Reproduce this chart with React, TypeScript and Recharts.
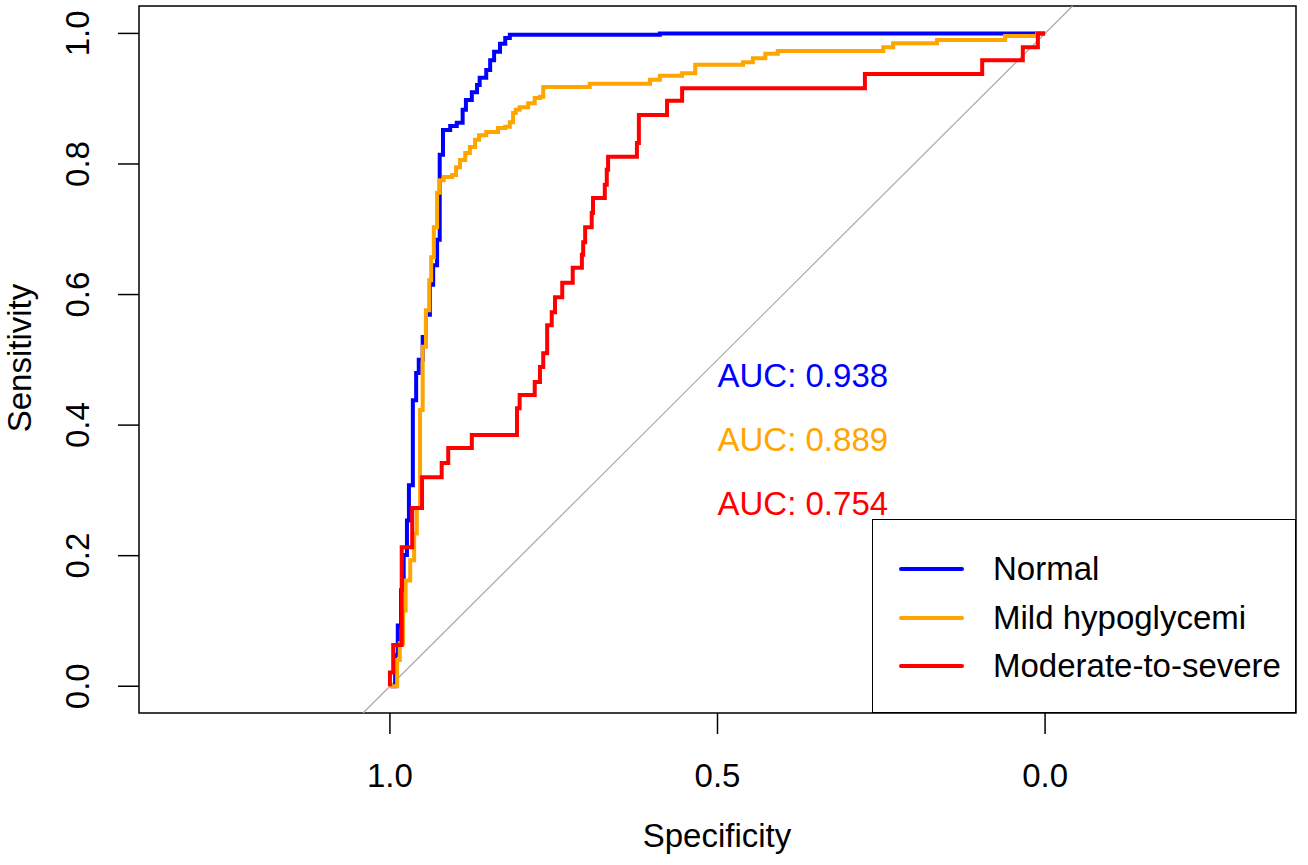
import React from "react";
import {
  LineChart,
  Line,
  XAxis,
  YAxis,
  Legend,
  ReferenceArea,
  ReferenceLine,
  ReferenceDot,
} from "recharts";

// ROC points: each point is the foot of a vertical step
const NORMAL_SPEC = [
  1.0, 0.992, 0.988, 0.983, 0.979, 0.974, 0.971, 0.965, 0.96, 0.956, 0.95,
  0.945, 0.939, 0.934, 0.928, 0.924, 0.919, 0.908, 0.898, 0.889, 0.884, 0.875,
  0.867, 0.863, 0.853, 0.847, 0.841, 0.832, 0.824, 0.817, 0.806, 0.588, 0.0,
];
const NORMAL_SENS = [
  0.0, 0.0, 0.048, 0.093, 0.147, 0.201, 0.254, 0.308, 0.438, 0.48, 0.5, 0.535,
  0.569, 0.615, 0.645, 0.684, 0.814, 0.852, 0.858, 0.863, 0.883, 0.898, 0.91,
  0.921, 0.932, 0.944, 0.959, 0.972, 0.984, 0.993, 0.998, 0.998, 1.0,
];

const MILD_SPEC = [
  1.0, 0.989, 0.985, 0.98, 0.976, 0.969, 0.963, 0.959, 0.954, 0.95, 0.945,
  0.94, 0.937, 0.933, 0.928, 0.924, 0.918, 0.905, 0.899, 0.893, 0.885, 0.878,
  0.87, 0.864, 0.853, 0.835, 0.824, 0.817, 0.812, 0.808, 0.802, 0.789, 0.779,
  0.771, 0.766, 0.695, 0.603, 0.588, 0.554, 0.534, 0.461, 0.446, 0.427, 0.408,
  0.247, 0.232, 0.165, 0.061, 0.012, 0.0,
];
const MILD_SENS = [
  0.0, 0.0, 0.04, 0.066, 0.116, 0.162, 0.193, 0.234, 0.273, 0.423, 0.52, 0.576,
  0.622, 0.657, 0.703, 0.756, 0.775, 0.78, 0.783, 0.795, 0.806, 0.817, 0.826,
  0.837, 0.844, 0.849, 0.855, 0.857, 0.864, 0.878, 0.883, 0.887, 0.893, 0.901,
  0.903, 0.918, 0.923, 0.929, 0.935, 0.939, 0.952, 0.956, 0.962, 0.969, 0.973,
  0.979, 0.985, 0.99, 0.996, 1.0,
];

const SEVERE_SPEC = [
  1.0, 0.995, 0.982, 0.966, 0.951, 0.921, 0.911, 0.875, 0.806, 0.802, 0.779,
  0.771, 0.766, 0.76, 0.753, 0.748, 0.737, 0.721, 0.707, 0.705, 0.702, 0.692,
  0.69, 0.672, 0.669, 0.667, 0.623, 0.62, 0.577, 0.554, 0.275, 0.096, 0.034,
  0.011, 0.0,
];
const SEVERE_SENS = [
  0.0, 0.021, 0.063, 0.213, 0.273, 0.32, 0.342, 0.365, 0.385, 0.426, 0.446,
  0.466, 0.489, 0.51, 0.553, 0.573, 0.596, 0.618, 0.641, 0.661, 0.68, 0.703,
  0.725, 0.748, 0.768, 0.791, 0.811, 0.832, 0.875, 0.897, 0.916, 0.938, 0.959,
  0.979, 1.0,
];

const GROUPS = ["Normal", "Mild hypoglycemi", "Moderate-to-severe"];
const COLORS = ["#0000FF", "#FFA500", "#FF0000"];
const AUCS = [0.938, 0.889, 0.754];
const X_TICKS = [1.0, 0.5, 0.0];
const Y_TICKS = [0.0, 0.2, 0.4, 0.6, 0.8, 1.0];

// layout
const X_DOMAIN: [number, number] = [-0.383, 1.383];
const Y_DOMAIN: [number, number] = [-0.041, 1.042];
const AUC_Y = [0.458, 0.36, 0.262];
const FONT = "'Liberation Sans', Arial, sans-serif";
const FS = 33;

const zip = (spec: number[], sens: number[]) =>
  spec.map((s, i) => ({ spec: s, sens: sens[i] }));

const seriesData = [
  zip(NORMAL_SPEC, NORMAL_SENS),
  zip(MILD_SPEC, MILD_SENS),
  zip(SEVERE_SPEC, SEVERE_SENS),
];

const XTick = (props: any) => (
  <text
    x={props.x}
    y={787}
    textAnchor="middle"
    fontFamily={FONT}
    fontSize={FS}
    fill="#000"
  >
    {Number(props.payload.value).toFixed(1)}
  </text>
);

const YTick = (props: any) => (
  <text
    x={89}
    y={props.y}
    transform={`rotate(-90, 89, ${props.y})`}
    textAnchor="middle"
    fontFamily={FONT}
    fontSize={FS}
    fill="#000"
  >
    {Number(props.payload.value).toFixed(1)}
  </text>
);

const LegendBox = () => (
  <div
    style={{
      width: 424,
      height: 194,
      boxSizing: "border-box",
      border: "1.5px solid #000",
      background: "#fff",
      position: "relative",
      fontFamily: FONT,
      fontSize: FS,
    }}
  >
    {GROUPS.map((g, i) => (
      <div
        key={g}
        style={{
          position: "absolute",
          left: 0,
          top: 49 + i * 48.5 - 20,
          height: 40,
          display: "flex",
          alignItems: "center",
        }}
      >
        <div
          style={{
            marginLeft: 26,
            width: 65,
            height: 4,
            background: COLORS[i],
            borderRadius: 2,
          }}
        />
        <span style={{ marginLeft: 29, color: "#000", whiteSpace: "nowrap" }}>
          {g}
        </span>
      </div>
    ))}
  </div>
);

export default function App() {
  return (
    <div>
      <style>{"body{margin:0;background:#fff}"}</style>
      <LineChart
        width={1308}
        height={865}
        margin={{ top: 6, right: 12, bottom: 0, left: 0 }}
      >
        <XAxis
          dataKey="spec"
          type="number"
          domain={X_DOMAIN}
          allowDataOverflow
          reversed
          ticks={X_TICKS}
          tick={XTick}
          tickSize={21}
          tickMargin={0}
          tickLine={{ stroke: "#000", strokeWidth: 1.5 }}
          axisLine={false}
          height={152}
          interval={0}
        />
        <YAxis
          type="number"
          domain={Y_DOMAIN}
          allowDataOverflow
          ticks={Y_TICKS}
          tick={YTick}
          tickSize={21}
          tickMargin={0}
          tickLine={{ stroke: "#000", strokeWidth: 1.5 }}
          axisLine={false}
          width={139}
          interval={0}
        />
        <ReferenceArea
          x1={X_DOMAIN[0]}
          x2={X_DOMAIN[1]}
          y1={Y_DOMAIN[0]}
          y2={Y_DOMAIN[1]}
          fill="none"
          stroke="#000"
          strokeWidth={1.5}
        />
        <ReferenceLine
          segment={[
            { x: 1.041, y: -0.041 },
            { x: -0.042, y: 1.042 },
          ]}
          stroke="#A9A9A9"
          strokeWidth={1.2}
        />
        {GROUPS.map((g, i) => (
          <Line
            key={g}
            name={g}
            data={seriesData[i]}
            dataKey="sens"
            type="stepBefore"
            stroke={COLORS[i]}
            strokeWidth={4}
            dot={false}
            isAnimationActive={false}
          />
        ))}
        {AUCS.map((a, i) => (
          <ReferenceDot
            key={a}
            x={0.5}
            y={AUC_Y[i]}
            r={0}
            fill="none"
            stroke="none"
            label={(p: any) => (
              <text
                x={p.viewBox.x}
                y={p.viewBox.y}
                textAnchor="start"
                fontFamily={FONT}
                fontSize={FS}
                fill={COLORS[i]}
              >
                {`AUC: ${a.toFixed(3)}`}
              </text>
            )}
          />
        ))}
        <text
          x={717}
          y={847}
          textAnchor="middle"
          fontFamily={FONT}
          fontSize={FS}
          fill="#000"
        >
          Specificity
        </text>
        <text
          x={31}
          y={358}
          transform="rotate(-90, 31, 358)"
          textAnchor="middle"
          fontFamily={FONT}
          fontSize={FS}
          fill="#000"
        >
          Sensitivity
        </text>
        <Legend
          layout="vertical"
          align="center"
          verticalAlign="middle"
          content={LegendBox}
          wrapperStyle={{ left: 872, top: 519, width: 424, height: 194 }}
        />
      </LineChart>
    </div>
  );
}
